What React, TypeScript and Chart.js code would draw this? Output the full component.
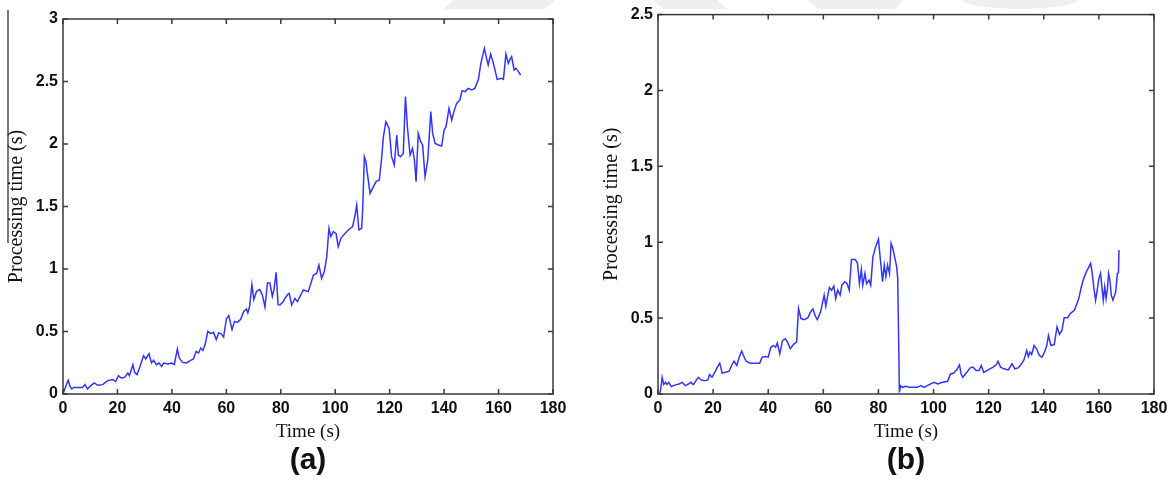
import React, { useEffect, useRef } from "react";
import { Chart, registerables } from "chart.js";

Chart.register(...registerables);

// ---- Data (time in s, processing time in s) ----
const xTickStep = 20;
const xMax = 180;
const yMaxA = 3;
const yMaxB = 2.5;
const yTickStep = 0.5;
const panelLabels = ["(a)", "(b)"];
const xTitle = "Time (s)";
const yTitle = "Processing time (s)";

const seriesA: [number, number][] = [
  [0, 0], [1, 0.06], [1.9, 0.11], [2.6, 0.06], [3.2, 0.04], [4, 0.053], [7.2, 0.053], [8.1, 0.075],
  [9, 0.04], [10.2, 0.067], [11.5, 0.088], [12.7, 0.07], [14.6, 0.075], [16.4, 0.107], [18.3, 0.115],
  [19.3, 0.1], [20.4, 0.147], [21.4, 0.128], [22.6, 0.133], [23.8, 0.168], [24.4, 0.147], [25.7, 0.235],
  [26.3, 0.173], [27.2, 0.155], [28.1, 0.208], [29.6, 0.307], [30.4, 0.28], [31.6, 0.323], [32.5, 0.248],
  [33.3, 0.269], [34.3, 0.235], [35.3, 0.248], [36.2, 0.221], [37, 0.248], [38.6, 0.24], [39.9, 0.248],
  [40.9, 0.235], [42, 0.36], [42.7, 0.288], [43.9, 0.253], [45.4, 0.248], [46.9, 0.269], [47.9, 0.28],
  [48.9, 0.341], [49.8, 0.328], [50.6, 0.368], [51.4, 0.349], [52.2, 0.395], [53.2, 0.501], [54.3, 0.483],
  [55.3, 0.493], [56.3, 0.435], [57.2, 0.488], [58, 0.483], [59, 0.456], [60, 0.6], [60.9, 0.627],
  [62.1, 0.515], [63, 0.581], [64, 0.573], [65.2, 0.595], [66.4, 0.661], [67.4, 0.68], [67.9, 0.648],
  [68.6, 0.707], [69.4, 0.875], [70.1, 0.755], [71.1, 0.821], [72.3, 0.835], [73.2, 0.795], [74.2, 0.696],
  [75.1, 0.888], [76, 0.888], [76.9, 0.781], [77.5, 0.835], [78.3, 0.973], [79, 0.715], [79.7, 0.712],
  [80.9, 0.739], [81.5, 0.765], [82.4, 0.792], [83.1, 0.805], [84, 0.712], [85.2, 0.765], [86.1, 0.739],
  [88.3, 0.832], [90.1, 0.819], [92, 0.952], [93.2, 0.965], [94, 1.032], [95, 0.925], [96, 0.979],
  [96.9, 1.099], [97.7, 1.325], [98.4, 1.259], [99.3, 1.299], [100.3, 1.285], [101.1, 1.179], [102.1, 1.245],
  [103.6, 1.285], [104.8, 1.312], [106.4, 1.339], [107.3, 1.432], [107.9, 1.512], [108.7, 1.312],
  [109.7, 1.325], [110.1, 1.485], [110.7, 1.899], [111.3, 1.859], [111.8, 1.765], [112.8, 1.605],
  [113.7, 1.645], [115, 1.699], [116.2, 1.712], [117.1, 1.899], [117.7, 2.059], [118.6, 2.179],
  [119.8, 2.125], [120.7, 1.899], [121.7, 1.832], [122.6, 2.072], [123.2, 1.912], [124, 1.899],
  [125, 1.925], [125.8, 2.379], [126.5, 2.139], [127.5, 1.912], [128.4, 1.965], [129.1, 1.872],
  [129.7, 1.699], [130.5, 2.085], [131.4, 2.019], [132.1, 1.992], [133, 1.739], [134, 1.872],
  [135.1, 2.259], [135.8, 2.085], [136.7, 2.005], [137.9, 1.992], [139.1, 1.984], [140, 2.112],
  [140.7, 2.139], [141.8, 2.285], [142.8, 2.192], [143.6, 2.259], [144.6, 2.325], [145.8, 2.352],
  [146.6, 2.427], [147.7, 2.419], [148.9, 2.445], [150.1, 2.432], [151.3, 2.445], [152.6, 2.517],
  [153.5, 2.645], [154.8, 2.765], [155.6, 2.685], [156.2, 2.632], [157.1, 2.72], [158.1, 2.645],
  [159.5, 2.517], [161.1, 2.525], [161.8, 2.517], [162.7, 2.72], [163.6, 2.645], [164.2, 2.677],
  [164.8, 2.699], [165.7, 2.592], [166.4, 2.605], [167.3, 2.579], [168.1, 2.552],
];

const seriesB: [number, number][] = [
  [0, 0], [0.5, 0.004], [0.9, 0.02], [1.5, 0.11], [2.1, 0.062], [2.7, 0.077], [3.3, 0.062], [3.9, 0.077],
  [4.8, 0.049], [6.4, 0.06], [7.6, 0.066], [8.9, 0.077], [9.8, 0.055], [11.1, 0.066], [11.9, 0.077],
  [12.8, 0.062], [13.8, 0.088], [14.6, 0.11], [15.6, 0.093], [16.9, 0.088], [18.1, 0.093], [18.7, 0.128],
  [19.6, 0.11], [20.6, 0.143], [21.4, 0.172], [22.4, 0.203], [23.3, 0.137], [24.6, 0.143], [25.8, 0.15],
  [26.7, 0.188], [27.6, 0.216], [28.6, 0.188], [29.5, 0.243], [30.4, 0.283], [31, 0.254], [32, 0.216],
  [33.5, 0.203], [35.3, 0.203], [36.9, 0.203], [37.8, 0.243], [39, 0.247], [40, 0.243], [40.9, 0.305],
  [41.8, 0.32], [42.7, 0.309], [43.3, 0.336], [44.2, 0.265], [45.2, 0.353], [46.2, 0.364], [47, 0.342],
  [48, 0.298], [49.2, 0.327], [50.3, 0.342], [51, 0.563], [51.9, 0.497], [53.2, 0.49], [54.4, 0.503],
  [55.4, 0.541], [56.2, 0.561], [57.1, 0.512], [57.8, 0.49], [59, 0.541], [59.7, 0.6], [60.3, 0.651],
  [60.9, 0.578], [61.5, 0.64], [62.2, 0.702], [63, 0.684], [63.8, 0.711], [64.5, 0.629], [65.2, 0.684],
  [66.1, 0.651], [66.7, 0.717], [67.7, 0.74], [68.6, 0.728], [69.4, 0.684], [70.2, 0.887], [71.6, 0.887],
  [72.4, 0.861], [73.1, 0.728], [73.8, 0.821], [74.3, 0.717], [75.1, 0.795], [75.7, 0.728], [76.6, 0.75],
  [77.2, 0.717], [78, 0.905], [79, 0.971], [80, 1.02], [80.6, 0.905], [81.5, 0.74], [82.1, 0.85],
  [82.7, 0.773], [83.3, 0.85], [84, 0.795], [84.6, 0.993], [85.2, 0.96], [85.9, 0.9], [86.6, 0.84],
  [87, 0.76], [87.3, 0.4], [87.6, 0.01], [88, 0.055], [88.7, 0.044], [89.9, 0.051], [91.3, 0.044],
  [92.9, 0.044], [94.1, 0.044], [95.4, 0.055], [96.6, 0.044], [98.4, 0.062], [100.2, 0.077],
  [101.5, 0.066], [103.3, 0.077], [105.1, 0.084], [106.1, 0.132], [107.2, 0.137], [108.4, 0.159],
  [109.4, 0.192], [110, 0.132], [110.6, 0.11], [111.8, 0.137], [113.3, 0.172], [114.3, 0.177],
  [115.5, 0.155], [116.5, 0.155], [117.3, 0.188], [118.2, 0.143], [119.8, 0.159], [121.6, 0.177],
  [122.8, 0.194], [123.4, 0.216], [124.3, 0.177], [125.5, 0.166], [127.1, 0.159], [128.5, 0.199],
  [129.5, 0.166], [130.7, 0.172], [131.9, 0.199], [132.8, 0.225], [133.8, 0.287], [134.4, 0.247],
  [135, 0.276], [135.6, 0.26], [136.5, 0.32], [137.4, 0.298], [138.4, 0.254], [139.3, 0.243],
  [140.1, 0.269], [141.1, 0.32], [141.7, 0.386], [142.6, 0.32], [143.8, 0.327], [144.8, 0.442],
  [145.7, 0.393], [146.6, 0.419], [147.4, 0.503], [148.7, 0.503], [149.6, 0.53], [151.1, 0.552],
  [151.8, 0.585], [152.7, 0.629], [153.5, 0.695], [154.5, 0.762], [155.5, 0.806], [156.3, 0.834],
  [157, 0.861], [157.6, 0.795], [158.2, 0.695], [158.8, 0.618], [159.4, 0.684], [160, 0.762],
  [160.6, 0.795], [161.2, 0.684], [161.6, 0.618], [162.1, 0.706], [162.6, 0.629], [163.1, 0.695],
  [163.5, 0.795], [164, 0.751], [164.5, 0.651], [165.1, 0.618], [166.1, 0.673], [166.7, 0.795],
  [167.1, 0.799], [167.3, 0.949],
];

// ---- Styling ----
const LINE_COLOR = "#3434ff";
const AXIS_COLOR = "#3a3a3a";
const TEXT_COLOR = "#111111";
const SANS = "'Liberation Sans', Arial, sans-serif";
const SERIF = "'Liberation Serif', 'Times New Roman', serif";
const TICK_LEN = 5;
const CANVAS_W = 587;
const CANVAS_H = 481;

type Layout = {
  offsetX: number;
  padTop: number;
  padRight: number;
  yAxisWidth: number;
  yTitlePad: number;
  decorations: (ctx: CanvasRenderingContext2D) => void;
};

const framePlugin = {
  id: "matlabFrame",
  afterDraw(chart: any) {
    const { ctx, chartArea, scales } = chart;
    const { left, right, top, bottom } = chartArea;
    const x = scales.x;
    const y = scales.y;
    ctx.save();
    ctx.strokeStyle = AXIS_COLOR;
    ctx.lineWidth = 1.5;
    ctx.strokeRect(left, top, right - left, bottom - top);
    ctx.beginPath();
    x.ticks.forEach((t: any) => {
      const px = x.getPixelForValue(t.value);
      ctx.moveTo(px, bottom);
      ctx.lineTo(px, bottom - TICK_LEN);
      ctx.moveTo(px, top);
      ctx.lineTo(px, top + TICK_LEN);
    });
    y.ticks.forEach((t: any) => {
      const py = y.getPixelForValue(t.value);
      ctx.moveTo(left, py);
      ctx.lineTo(left + TICK_LEN, py);
      ctx.moveTo(right, py);
      ctx.lineTo(right - TICK_LEN, py);
    });
    ctx.stroke();
    ctx.restore();
  },
};

function makeDecorPlugin(draw: (ctx: CanvasRenderingContext2D) => void) {
  return {
    id: "decor",
    beforeDraw(chart: any) {
      const ctx = chart.ctx as CanvasRenderingContext2D;
      ctx.save();
      ctx.fillStyle = "#ffffff";
      ctx.fillRect(0, 0, chart.width, chart.height);
      draw(ctx);
      ctx.restore();
    },
  };
}

function poly(ctx: CanvasRenderingContext2D, pts: number[][], dx: number) {
  ctx.beginPath();
  pts.forEach(([px, py], i) => (i === 0 ? ctx.moveTo(px - dx, py) : ctx.lineTo(px - dx, py)));
  ctx.closePath();
  ctx.fill();
}

const layouts: Layout[] = [
  {
    offsetX: 0,
    padTop: 19,
    padRight: 34,
    yAxisWidth: 63,
    yTitlePad: 5,
    decorations: (ctx) => {
      ctx.fillStyle = "#efefef";
      poly(ctx, [[453, 0], [555, 0], [545, 9], [443, 9]], 0);
      ctx.strokeStyle = "#333";
      ctx.lineWidth = 1.3;
      ctx.beginPath();
      ctx.moveTo(8, 10);
      ctx.lineTo(8, 243);
      ctx.stroke();
    },
  },
  {
    offsetX: 587,
    padTop: 14,
    padRight: 20,
    yAxisWidth: 71,
    yTitlePad: 13,
    decorations: (ctx) => {
      const dx = 587;
      ctx.fillStyle = "#efefef";
      poly(ctx, [[653, 0], [717, 0], [727, 9], [663, 9]], dx);
      poly(ctx, [[808, 0], [903, 0], [895, 9], [818, 9]], dx);
      ctx.beginPath();
      ctx.ellipse(1020 - dx, 0, 57, 9, 0, 0, Math.PI);
      ctx.closePath();
      ctx.fill();
    },
  },
];

function Panel({ series, yMax, label, layout }: { series: [number, number][]; yMax: number; label: string; layout: Layout }) {
  const ref = useRef<HTMLCanvasElement>(null);
  useEffect(() => {
    if (!ref.current) return;
    const chart = new Chart(ref.current, {
      type: "line",
      data: {
        datasets: [
          {
            data: series.map(([t, v]) => ({ x: t, y: v })),
            borderColor: LINE_COLOR,
            borderWidth: 1.5,
            pointRadius: 0,
            tension: 0,
            fill: false,
          },
        ],
      },
      options: {
        responsive: false,
        animation: false,
        events: [],
        layout: { padding: { left: 0, top: layout.padTop, right: layout.padRight, bottom: 5 } },
        plugins: {
          legend: { display: false },
          tooltip: { enabled: false },
          title: {
            display: true,
            text: label,
            position: "bottom",
            fullSize: false,
            color: TEXT_COLOR,
            padding: 0,
            font: { family: SANS, size: 30, weight: "bold", lineHeight: 1 },
          },
        },
        scales: {
          x: {
            type: "linear",
            min: 0,
            max: xMax,
            grid: { display: false, drawTicks: false },
            border: { display: false },
            ticks: {
              stepSize: xTickStep,
              padding: 5,
              maxRotation: 0,
              autoSkip: false,
              color: TEXT_COLOR,
              font: { family: SANS, size: 16, weight: "bold" },
            },
            title: {
              display: true,
              text: xTitle,
              color: TEXT_COLOR,
              padding: { top: 0, bottom: 3 },
              font: { family: SERIF, size: 19 },
            },
            afterFit: (s: any) => {
              s.height = 52;
            },
          },
          y: {
            type: "linear",
            min: 0,
            max: yMax,
            grid: { display: false, drawTicks: false },
            border: { display: false },
            ticks: {
              stepSize: yTickStep,
              padding: 5,
              color: TEXT_COLOR,
              font: { family: SANS, size: 16, weight: "bold" },
              callback: (v: any) => String(Number(v)),
            },
            title: {
              display: true,
              text: yTitle,
              color: TEXT_COLOR,
              padding: { top: layout.yTitlePad, bottom: 0 },
              font: { family: SERIF, size: 20 },
            },
            afterFit: (s: any) => {
              s.width = layout.yAxisWidth;
            },
          },
        },
      } as any,
      plugins: [makeDecorPlugin(layout.decorations), framePlugin],
    });
    return () => chart.destroy();
  }, []);
  return (
    <div style={{ position: "absolute", left: layout.offsetX, top: 0, width: CANVAS_W, height: CANVAS_H }}>
      <canvas ref={ref} width={CANVAS_W} height={CANVAS_H} style={{ display: "block" }} />
    </div>
  );
}

export default function App() {
  return (
    <div style={{ position: "absolute", left: 0, top: 0, width: 1174, height: 481, background: "#fff", overflow: "hidden" }}>
      <Panel series={seriesA} yMax={yMaxA} label={panelLabels[0]} layout={layouts[0]} />
      <Panel series={seriesB} yMax={yMaxB} label={panelLabels[1]} layout={layouts[1]} />
    </div>
  );
}
